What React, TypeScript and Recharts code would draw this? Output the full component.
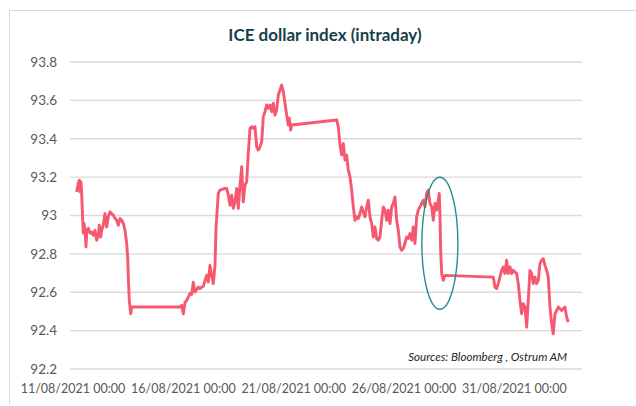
// ICE dollar index intraday line chart, with the Jackson Hole drop circled.
import { LineChart, Line, XAxis, YAxis, CartesianGrid, ReferenceDot } from 'recharts'

// x = days since 11/08/2021 00:00, y = index level
const days = [
  0.304, 0.376, 0.421, 0.453, 0.498, 0.530, 0.575, 0.603, 0.634, 0.680,
  0.725, 0.757, 0.829, 0.906, 0.983, 1.056, 1.133, 1.210, 1.282, 1.328,
  1.391, 1.436, 1.509, 1.586, 1.663, 1.735, 1.812, 1.889, 1.962, 2.039,
  2.116, 2.188, 2.266, 2.343, 2.415, 2.492, 2.569, 2.614, 2.642, 2.687,
  2.750, 2.796, 2.868, 4.984, 5.061, 5.134, 5.211, 5.288, 5.360, 5.437,
  5.514, 5.587, 5.664, 5.741, 5.813, 5.890, 5.967, 6.040, 6.117, 6.194,
  6.266, 6.343, 6.420, 6.493, 6.570, 6.615, 6.674, 6.720, 6.797, 7.023,
  7.100, 7.173, 7.250, 7.327, 7.399, 7.476, 7.553, 7.626, 7.703, 7.780,
  7.852, 7.929, 8.006, 8.079, 8.156, 8.233, 8.305, 8.382, 8.459, 8.532,
  8.609, 8.686, 8.758, 8.835, 8.912, 8.985, 9.062, 9.139, 9.211, 9.288,
  9.365, 9.438, 9.515, 9.592, 9.665, 9.742, 9.819, 9.891, 9.937, 10.000,
  10.045, 12.084, 12.157, 12.234, 12.311, 12.383, 12.460, 12.537, 12.610, 12.687,
  12.764, 12.836, 12.913, 12.990, 13.063, 13.140, 13.217, 13.289, 13.366, 13.443,
  13.516, 13.593, 13.670, 13.742, 13.819, 13.896, 13.969, 14.046, 14.123, 14.195,
  14.272, 14.349, 14.422, 14.499, 14.576, 14.648, 14.725, 14.802, 14.875, 14.952,
  15.029, 15.101, 15.178, 15.255, 15.328, 15.405, 15.482, 15.554, 15.631, 15.708,
  15.781, 15.858, 15.935, 16.007, 16.084, 16.161, 16.234, 16.311, 16.388, 16.461,
  16.538, 16.615, 16.687, 16.733, 16.764, 16.796, 16.842, 16.914, 16.991, 19.180,
  19.257, 19.334, 19.406, 19.483, 19.560, 19.633, 19.710, 19.787, 19.859, 19.936,
  20.013, 20.086, 20.163, 20.240, 20.312, 20.389, 20.466, 20.539, 20.616, 20.693,
  20.765, 20.842, 20.919, 20.992, 21.069, 21.146, 21.218, 21.295, 21.372, 21.445,
  21.522, 21.599, 21.671, 21.748, 21.825, 21.898, 21.975, 22.052, 22.124, 22.201,
  22.278, 22.351, 22.428, 22.505, 22.577,
]

const values = [
  93.123, 93.169, 93.184, 93.123, 93.175, 93.116, 92.975, 92.908, 92.960, 92.923,
  92.836, 92.914, 92.934, 92.908, 92.914, 92.897, 92.923, 92.871, 92.897, 92.949,
  92.888, 92.923, 92.949, 93.010, 92.940, 92.993, 93.019, 93.010, 93.002, 92.986,
  92.975, 92.949, 92.984, 92.975, 92.960, 92.923, 92.855, 92.784, 92.679, 92.558,
  92.488, 92.523, 92.523, 92.523, 92.532, 92.488, 92.547, 92.558, 92.575, 92.593,
  92.589, 92.652, 92.601, 92.615, 92.627, 92.619, 92.626, 92.631, 92.662, 92.688,
  92.653, 92.740, 92.688, 92.645, 92.740, 92.932, 93.037, 93.115, 93.132, 93.141,
  93.141, 93.106, 93.054, 93.106, 93.037, 93.071, 93.141, 93.037, 93.158, 93.254,
  93.071, 93.158, 93.175, 93.324, 93.454, 93.463, 93.454, 93.463, 93.358, 93.341,
  93.358, 93.384, 93.515, 93.541, 93.576, 93.559, 93.576, 93.541, 93.585, 93.524,
  93.550, 93.628, 93.654, 93.680, 93.645, 93.585, 93.524, 93.472, 93.507, 93.445,
  93.472, 93.498, 93.463, 93.367, 93.315, 93.376, 93.289, 93.315, 93.237, 93.202,
  93.132, 93.045, 92.975, 92.993, 92.984, 93.010, 93.045, 93.019, 92.993, 93.045,
  93.080, 92.993, 92.958, 92.888, 92.940, 92.880, 92.871, 92.888, 92.975, 93.045,
  93.028, 92.975, 93.028, 92.958, 93.045, 93.063, 93.097, 92.975, 92.923, 92.836,
  92.819, 92.828, 92.854, 92.888, 92.880, 92.906, 92.871, 92.940, 92.854, 92.993,
  93.028, 93.045, 93.063, 93.080, 93.045, 93.115, 93.132, 93.063, 93.045, 92.975,
  93.063, 93.028, 93.080, 93.115, 93.010, 92.819, 92.697, 92.662, 92.688, 92.679,
  92.627, 92.619, 92.645, 92.679, 92.714, 92.732, 92.697, 92.767, 92.697, 92.732,
  92.697, 92.714, 92.705, 92.697, 92.645, 92.558, 92.488, 92.540, 92.523, 92.418,
  92.558, 92.714, 92.697, 92.645, 92.679, 92.645, 92.662, 92.749, 92.767, 92.775,
  92.740, 92.714, 92.679, 92.523, 92.436, 92.384, 92.488, 92.505, 92.523, 92.514,
  92.505, 92.514, 92.523, 92.470, 92.444,
]

const tickDays = [0, 5, 10, 15, 20]
const tickLabels = ['11/08/2021 00:00', '16/08/2021 00:00', '21/08/2021 00:00', '26/08/2021 00:00', '31/08/2021 00:00']
const yTicks = [92.2, 92.4, 92.6, 92.8, 93, 93.2, 93.4, 93.6, 93.8]

// centre of the circled drop (27/08, Powell speech)
const circleDay = 16.76
const circleValue = 92.855

const data = days.map((t, i) => ({ t, v: values[i] }))

const FONT = 'Lato, "Open Sans", "Liberation Sans", sans-serif'

export default function App() {
  return (
    <div style={{ position: 'absolute', left: 0, top: 0, width: 636, height: 406, background: '#fff', fontFamily: FONT }}>
      {/* faint frame of the original Excel chart */}
      <div style={{ position: 'absolute', left: 9, top: 10, width: 640, height: 393, borderTop: '1px solid #d9d9d9', borderLeft: '1px solid #d9d9d9' }} />
      <div style={{ position: 'absolute', left: 0, width: 650, top: 24, textAlign: 'center', fontSize: 17, fontWeight: 700, color: '#163f4a' }}>
        ICE dollar index (intraday)
      </div>
      <LineChart width={636} height={406} data={data} margin={{ top: 62, right: 54, bottom: 7, left: 0 }} style={{ position: 'absolute', left: 0, top: 0 }}>
        <CartesianGrid vertical={false} stroke="#d9d9d9" strokeWidth={1.4} />
        <XAxis
          dataKey="t"
          type="number"
          domain={[0, 23.2]}
          ticks={tickDays}
          interval={0}
          tickFormatter={(d: number) => tickLabels[tickDays.indexOf(d)]}
          axisLine={false}
          tickLine={false}
          tickSize={0}
          tickMargin={15}
          height={30}
          tick={{ fontSize: 12.5, fill: '#595959', fontFamily: FONT, dx: 3 }}
        />
        <YAxis
          type="number"
          domain={[92.2, 93.8]}
          ticks={yTicks}
          interval={0}
          axisLine={false}
          tickLine={false}
          tickSize={0}
          tickMargin={13}
          width={70}
          tick={{ fontSize: 13.5, fill: '#595959', fontFamily: FONT }}
        />
        <Line
          dataKey="v"
          type="linear"
          stroke="#f5586f"
          strokeWidth={2.9}
          strokeLinejoin="round"
          dot={false}
          isAnimationActive={false}
        />
        <ReferenceDot
          x={circleDay}
          y={circleValue}
          shape={(p: any) => (
            <ellipse cx={p.cx} cy={p.cy} rx={18} ry={66} fill="none" stroke="#2a8c8f" strokeWidth={1.4} />
          )}
        />
      </LineChart>
      <div style={{ position: 'absolute', right: 636 - 567, top: 350, fontSize: 11.6, fontStyle: 'italic', color: '#262626', whiteSpace: 'nowrap' }}>
        Sources: Bloomberg , Ostrum AM
      </div>
    </div>
  )
}
